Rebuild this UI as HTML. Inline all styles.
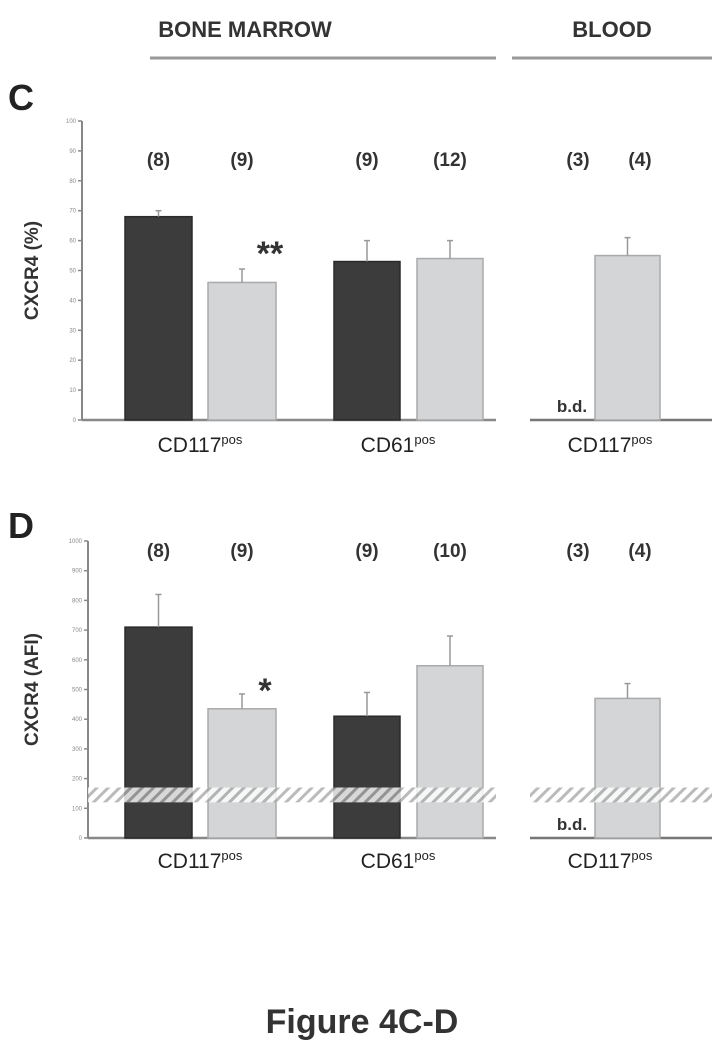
<!DOCTYPE html>
<html><head><meta charset="utf-8"><style>
body{margin:0;background:#fff;}
svg{display:block;font-family:"Liberation Sans",Arial,sans-serif;}
</style></head><body>
<svg id="fig" width="724" height="1050" viewBox="0 0 724 1050">
<defs>
<pattern id="hatch" width="8" height="8" patternUnits="userSpaceOnUse" patternTransform="rotate(45)">
<rect width="8" height="8" fill="#fff"/><rect width="3" height="8" fill="#aaa"/></pattern>
</defs>
<text x="245" y="37" font-size="22" font-weight="bold" text-anchor="middle" fill="#333">BONE MARROW</text>
<line x1="150" y1="58" x2="496" y2="58" stroke="#999" stroke-width="3"/>
<text x="612" y="37" font-size="22" font-weight="bold" text-anchor="middle" fill="#333">BLOOD</text>
<line x1="512" y1="58" x2="712" y2="58" stroke="#999" stroke-width="3"/>
<text x="8" y="110" font-size="36" font-weight="bold" fill="#222">C</text>
<text x="8" y="538" font-size="36" font-weight="bold" fill="#222">D</text>
<text x="362" y="1033" font-size="34" font-weight="bold" text-anchor="middle" fill="#333">Figure 4C-D</text>
<g id="c"></g><g id="d"></g>
</svg>
<script>
const groups=["CD117pos BM","CD117pos BM","CD61pos BM","CD61pos BM","CD117pos blood","CD117pos blood"];
const cValues=[68,46,53,54,0,55];
const cErrors=[70,50.5,60,60,0,61];
const cCounts=["(8)","(9)","(9)","(12)","(3)","(4)"];
const cTicks=[0,10,20,30,40,50,60,70,80,90,100];
const dValues=[710,435,410,580,0,470];
const dErrors=[820,485,490,680,0,520];
const dCounts=["(8)","(9)","(9)","(10)","(3)","(4)"];
const dTicks=[0,100,200,300,400,500,600,700,800,900,1000];
const barX=[[125,192],[208,276],[334,400],[417,483],[560,600],[595,660]];
const NS="http://www.w3.org/2000/svg";
function mk(p,t,a){const e=document.createElementNS(NS,t);for(const k in a)e.setAttribute(k,a[k]);p.appendChild(e);return e;}
function panel(g,vals,errs,counts,ticks,max,y0,y1,ax,countY,labelY,ylabel,star,band){
  const y=v=>y0-(v/max)*(y0-y1);
  const axis=mk(g,'line',{x1:ax,y1:y0,x2:ax,y2:y1,stroke:'#888','stroke-width':2});
  
  
  ticks.forEach(t=>{
    const l=mk(g,'line',{x1:ax-4,x2:ax,y1:y(t),y2:y(t),stroke:'#888','stroke-width':1.5});
    
    
    const tx=mk(g,'text',{x:ax-6,y:y(t)+2,'font-size':6,'text-anchor':'end',fill:'#888'});tx.textContent=t;
    
    
  });
  const b1=mk(g,'line',{x1:ax,x2:496,y1:y0,y2:y0,stroke:'#888','stroke-width':2.5});
  
  
  const b2=mk(g,'line',{x1:530,x2:712,y1:y0,y2:y0,stroke:'#777','stroke-width':2.5});
  
  
  const yl=mk(g,'text',{x:0,y:0,'font-size':19,'font-weight':'bold','text-anchor':'middle',fill:'#333',transform:`translate(38,${(y0+y1)/2}) rotate(-90)`});yl.textContent=ylabel;
  
  
  vals.forEach((v,i)=>{
    const [xa,xb]=barX[i];const cx=(xa+xb)/2;
    if(i!==4){
      const dark=i%2===0;
      const r=mk(g,'rect',{x:xa,y:y(v),width:xb-xa,height:y0-y(v),fill:dark?'#3c3c3c':'#d3d5d7',stroke:dark?'#2a2a2a':'#aaa','stroke-width':1.5});
      
      
      const e=mk(g,'line',{x1:cx,x2:cx,y1:y(v),y2:y(errs[i]),stroke:'#999','stroke-width':1.5});
      
      
      const c=mk(g,'line',{x1:cx-3,x2:cx+3,y1:y(errs[i]),y2:y(errs[i]),stroke:'#999','stroke-width':1.5});
      
      
    }
    const ccx=i===4?578:(i===5?640:cx);
    const t=mk(g,'text',{x:ccx,y:countY,'font-size':19,'font-weight':'bold','text-anchor':'middle',fill:'#333'});t.textContent=counts[i];
    
    
  });
  if(band){
    const h=mk(g,'rect',{x:ax,y:y(band[1]),width:496-ax,height:y(band[0])-y(band[1]),fill:'url(#hatch)',opacity:0.8});
    
    
    const h2=mk(g,'rect',{x:530,y:y(band[1]),width:182,height:y(band[0])-y(band[1]),fill:'url(#hatch)',opacity:0.8});
    
    
  }
  const bd=mk(g,'text',{x:572,y:y0-8,'font-size':17,'font-weight':'bold','text-anchor':'middle',fill:'#333'});bd.textContent='b.d.';
  
  
  const st=mk(g,'text',{x:star[0],y:star[1],'font-size':34,'font-weight':'bold','text-anchor':'middle',fill:'#333'});st.textContent=star[2];
  
  
  [[200,'CD117'],[398,'CD61'],[610,'CD117']].forEach(([x,n])=>{
    const t=mk(g,'text',{x:x,y:labelY,'font-size':21,'text-anchor':'middle',fill:'#222'});
    t.innerHTML=n+'<tspan font-size="13" dy="-8">pos</tspan>';
    
    
  });
}
panel(document.getElementById('c'),cValues,cErrors,cCounts,cTicks,100,420,121,82,166,452,'CXCR4 (%)',[270,265,'**'],null);
panel(document.getElementById('d'),dValues,dErrors,dCounts,dTicks,1000,838,541,88,557,868,'CXCR4 (AFI)',[265,702,'*'],[120,170]);
</script>
</body></html>
